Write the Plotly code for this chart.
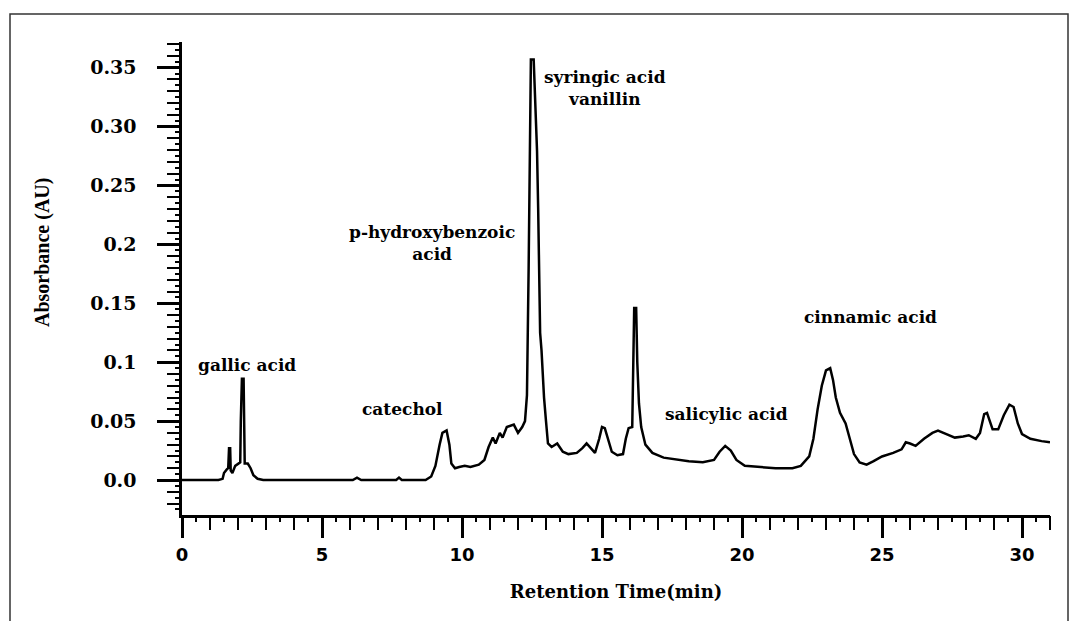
import plotly.graph_objects as go

# Chromatogram trace: retention time (min) and absorbance (AU)
retention_time = [
    0.0, 1.3, 1.45, 1.5, 1.6, 1.65, 1.68, 1.72, 1.74, 1.8, 1.9, 2.0, 2.08, 2.1, 2.14,
    2.2, 2.24, 2.35, 2.45, 2.55, 2.7, 2.9, 6.1, 6.25, 6.4, 7.65, 7.75, 7.85, 8.7, 8.9,
    9.05, 9.2, 9.3, 9.45, 9.55, 9.62, 9.75, 9.9, 10.1, 10.3, 10.6, 10.8, 10.95, 11.1,
    11.2, 11.35, 11.45, 11.6, 11.75, 11.85, 12.0, 12.15, 12.25, 12.32, 12.38, 12.42,
    12.46, 12.56, 12.61, 12.68, 12.72, 12.79, 12.84, 12.88, 12.93, 13.0, 13.07, 13.2,
    13.4, 13.6, 13.8, 14.1, 14.3, 14.45, 14.6, 14.75, 14.9, 15.0, 15.1, 15.2, 15.35,
    15.55, 15.75, 15.85, 15.95, 16.08, 16.12, 16.15, 16.22, 16.26, 16.32, 16.4, 16.55,
    16.8, 17.2, 17.7, 18.1, 18.6, 19.0, 19.2, 19.4, 19.6, 19.8, 20.1, 20.6, 21.2, 21.8,
    22.1, 22.4, 22.55, 22.7, 22.85, 23.0, 23.15, 23.25, 23.35, 23.5, 23.7, 23.85, 24.0,
    24.2, 24.45, 24.7, 25.0, 25.4, 25.7, 25.85, 26.0, 26.2, 26.5, 26.8, 27.0, 27.3,
    27.6, 27.9, 28.1, 28.35, 28.5, 28.65, 28.75, 28.95, 29.15, 29.35, 29.55, 29.7,
    29.85, 30.0, 30.3, 30.7, 31.0,
]
absorbance = [
    0.0, 0.0, 0.001, 0.006, 0.009, 0.010, 0.027, 0.027, 0.008, 0.006, 0.012, 0.014, 0.015, 0.05, 0.086,
    0.086, 0.014, 0.014, 0.010, 0.004, 0.001, 0.0, 0.0, 0.002, 0.0, 0.0, 0.002, 0.0, 0.0, 0.003,
    0.012, 0.030, 0.040, 0.042, 0.030, 0.014, 0.010, 0.011, 0.012, 0.011, 0.013, 0.017, 0.028, 0.036,
    0.031, 0.040, 0.036, 0.045, 0.046, 0.047, 0.040, 0.045, 0.050, 0.072, 0.180, 0.300,
    0.357, 0.357, 0.325, 0.279, 0.231, 0.125, 0.110, 0.090, 0.070, 0.050, 0.031, 0.028,
    0.031, 0.024, 0.022, 0.023, 0.027, 0.031, 0.027, 0.023, 0.035, 0.045, 0.044, 0.036, 0.024,
    0.021, 0.022, 0.035, 0.044, 0.045, 0.100, 0.146, 0.146, 0.100, 0.065, 0.045, 0.030,
    0.023, 0.019, 0.017, 0.016, 0.015, 0.017, 0.024, 0.029, 0.025, 0.017, 0.012, 0.011, 0.010, 0.010,
    0.012, 0.020, 0.035, 0.060, 0.080, 0.093, 0.095, 0.085, 0.070, 0.057, 0.048, 0.035, 0.022,
    0.015, 0.013, 0.016, 0.020, 0.023, 0.026, 0.032, 0.031, 0.029, 0.035, 0.040, 0.042, 0.039,
    0.036, 0.037, 0.038, 0.035, 0.040, 0.056, 0.057, 0.043, 0.043, 0.055, 0.064, 0.062,
    0.048, 0.039, 0.035, 0.033, 0.032,
]

# Y-axis tick labels
y_tickvals = [0.0, 0.05, 0.1, 0.15, 0.2, 0.25, 0.30, 0.35]
y_ticktext = ["0.0", "0.05", "0.1", "0.15", "0.2", "0.25", "0.30", "0.35"]

# Peak labels and where they sit (retention time, absorbance)
peak_labels = ["gallic acid", "catechol", "p-hydroxybenzoic<br>acid",
               "syringic acid<br>vanillin", "salicylic acid", "cinnamic acid"]
label_time = [2.32, 7.86, 8.93, 15.1, 19.46, 24.6]
label_abs = [0.0976, 0.060, 0.201, 0.333, 0.056, 0.138]

X_RANGE = [0, 31.0]
Y_RANGE = [-0.0297, 0.3718]

# Plot-area geometry (pixels) for the figure frame and titles
W, H = 1071, 621
L, R, T, B = 182, 1050, 42, 515


def px_x(px):
    return (px - L) / (R - L)


def px_y(py):
    return (B - py) / (B - T)


serif_bold = dict(family="DejaVu Serif", color="black")

fig = go.Figure()
fig.add_trace(go.Scatter(
    x=retention_time, y=absorbance, mode="lines",
    line=dict(color="black", width=2.5), hoverinfo="skip", showlegend=False,
))
# empty trace so the secondary tick axes are drawn
fig.add_trace(go.Scatter(x=[], y=[], xaxis="x2", yaxis="y2", showlegend=False))

axis_common = dict(showgrid=False, zeroline=False, linecolor="black", tickcolor="black")

fig.update_layout(
    width=W, height=H,
    margin=dict(l=L, r=W - R, t=T, b=H - B),
    paper_bgcolor="white", plot_bgcolor="white",
    xaxis=dict(
        **axis_common, range=X_RANGE, showline=True, linewidth=2.5,
        ticks="outside", tickmode="linear", tick0=0, dtick=5, ticklen=20, tickwidth=2.5,
        minor=dict(ticks="outside", dtick=1, ticklen=12, tickwidth=2, tickcolor="black"),
        tickfont=dict(family="DejaVu Sans", size=18, color="black", weight="bold"),
        ticklabelstandoff=2,
        title=dict(text="Retention Time(min)", standoff=22,
                   font=dict(**serif_bold, size=18, weight="bold")),
    ),
    xaxis2=dict(
        **axis_common, range=X_RANGE, overlaying="x", side="bottom",
        showline=False, ticks="outside", tickmode="linear", tick0=0, dtick=0.5,
        ticklen=6, tickwidth=2, showticklabels=False,
    ),
    yaxis=dict(
        **axis_common, range=Y_RANGE, showline=True, linewidth=2.5,
        ticks="outside", tickmode="array", tickvals=y_tickvals, ticktext=y_ticktext,
        ticklen=22, tickwidth=2.5,
        minor=dict(ticks="outside", tickmode="linear", tick0=0, dtick=0.01,
                   ticklen=12, tickwidth=2, tickcolor="black"),
        tickfont=dict(**serif_bold, size=19, weight="bold"),
        ticklabelstandoff=17,
    ),
    yaxis2=dict(
        **axis_common, range=Y_RANGE, overlaying="y", side="left",
        showline=False, ticks="outside", tickmode="linear", tick0=0, dtick=0.005,
        ticklen=6, tickwidth=2, showticklabels=False,
    ),
)

# peak annotations
for text, t, a in zip(peak_labels, label_time, label_abs):
    fig.add_annotation(
        x=t, y=a, xref="x", yref="y", text=text, showarrow=False,
        xanchor="center", yanchor="middle",
        font=dict(**serif_bold, size=17, weight="bold"),
    )

# y-axis title
fig.add_annotation(
    x=px_x(43), y=px_y(253), xref="paper", yref="paper",
    text="Absorbance (AU)", textangle=-90, showarrow=False,
    xanchor="center", yanchor="middle",
    font=dict(family="Liberation Serif", size=20, color="black", weight="bold"),
)

# outer frame around the figure
fig.add_shape(
    type="rect", xref="paper", yref="paper",
    x0=px_x(10), x1=px_x(1068), y0=px_y(630), y1=px_y(14),
    line=dict(color="#333333", width=1.5), fillcolor="rgba(0,0,0,0)", layer="below",
)

fig.write_html("out.html")
